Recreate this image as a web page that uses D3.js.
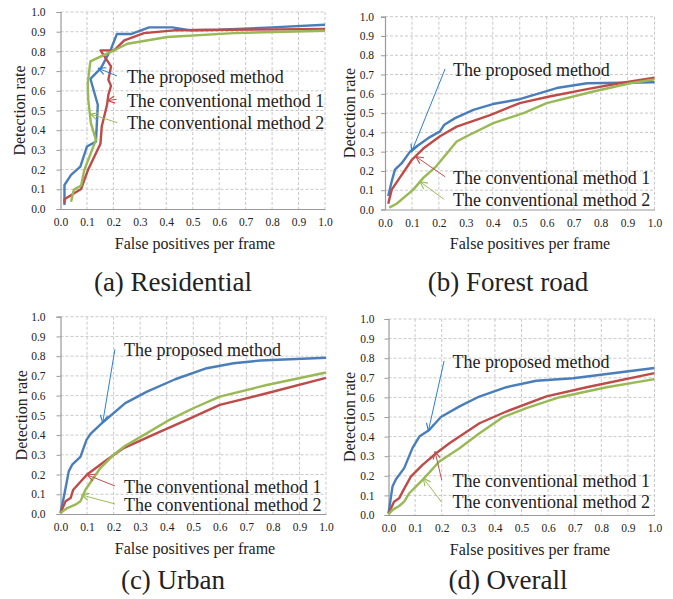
<!DOCTYPE html>
<html>
<head>
<meta charset="utf-8">
<title>Detection rate vs false positives</title>
<script src="https://d3js.org/d3.v7.min.js"></script>
<style>
  body { margin: 0; background: #fff; }
  text { font-family: "Liberation Serif", "Times New Roman", serif; fill: #222; }
</style>
</head>
<body>
<script>
// series values as [false positives per frame, detection rate]
var residentialProposed = [[0.015,0.02],[0.015,0.122],[0.04,0.173],[0.075,0.215],[0.10,0.317],[0.134,0.342],[0.141,0.529],[0.113,0.661],[0.153,0.715],[0.191,0.812],[0.213,0.888],[0.266,0.888],[0.335,0.922],[0.423,0.922],[0.492,0.907],[0.6,0.91],[0.8,0.922],[1.0,0.935]];
var residentialConv1 = [[0.015,0.029],[0.015,0.049],[0.078,0.102],[0.103,0.195],[0.151,0.331],[0.156,0.419],[0.176,0.529],[0.181,0.58],[0.191,0.625],[0.181,0.656],[0.191,0.724],[0.168,0.771],[0.151,0.805],[0.203,0.805],[0.241,0.856],[0.316,0.893],[0.429,0.907],[1.0,0.914]];
var residentialConv2 = [[0.04,0.037],[0.05,0.097],[0.078,0.119],[0.09,0.198],[0.134,0.351],[0.115,0.436],[0.105,0.554],[0.103,0.639],[0.113,0.749],[0.153,0.775],[0.213,0.812],[0.253,0.839],[0.404,0.873],[0.655,0.893],[1.0,0.905]];

var forestProposed = [[0.012,0.07],[0.025,0.147],[0.037,0.207],[0.062,0.24],[0.093,0.30],[0.118,0.328],[0.16,0.37],[0.204,0.405],[0.22,0.44],[0.26,0.474],[0.328,0.517],[0.40,0.547],[0.50,0.572],[0.637,0.63],[0.75,0.655],[1.0,0.66]];
var forestConv1 = [[0.012,0.03],[0.025,0.103],[0.05,0.155],[0.10,0.258],[0.142,0.316],[0.204,0.38],[0.266,0.43],[0.39,0.49],[0.50,0.552],[0.61,0.586],[0.75,0.624],[0.87,0.655],[1.0,0.684]];
var forestConv2 = [[0.016,0.01],[0.043,0.03],[0.105,0.103],[0.142,0.164],[0.19,0.224],[0.266,0.353],[0.303,0.38],[0.402,0.448],[0.514,0.50],[0.60,0.552],[0.773,0.612],[0.91,0.655],[1.0,0.675]];

var urbanProposed = [[0.0,0.005],[0.013,0.09],[0.019,0.13],[0.031,0.216],[0.044,0.25],[0.075,0.29],[0.098,0.376],[0.113,0.406],[0.163,0.469],[0.244,0.562],[0.326,0.62],[0.432,0.683],[0.551,0.739],[0.652,0.764],[0.752,0.778],[1.0,0.792]];
var urbanConv1 = [[0.0,0.005],[0.019,0.064],[0.038,0.081],[0.048,0.123],[0.10,0.20],[0.175,0.275],[0.238,0.334],[0.363,0.41],[0.476,0.477],[0.60,0.553],[0.777,0.612],[1.0,0.69]];
var urbanConv2 = [[0.0,0.005],[0.025,0.03],[0.056,0.047],[0.075,0.064],[0.094,0.123],[0.15,0.233],[0.20,0.30],[0.244,0.346],[0.326,0.41],[0.414,0.48],[0.50,0.536],[0.60,0.595],[0.777,0.654],[1.0,0.717]];

var overallProposed = [[0.0,0.008],[0.015,0.145],[0.028,0.182],[0.059,0.239],[0.09,0.341],[0.116,0.40],[0.153,0.434],[0.197,0.50],[0.267,0.554],[0.336,0.601],[0.443,0.652],[0.556,0.685],[0.694,0.698],[1.0,0.75]];
var overallConv1 = [[0.0,0.008],[0.021,0.068],[0.04,0.085],[0.053,0.119],[0.084,0.196],[0.128,0.256],[0.179,0.315],[0.229,0.366],[0.342,0.468],[0.443,0.528],[0.594,0.605],[0.745,0.652],[1.0,0.724]];
var overallConv2 = [[0.0,0.003],[0.015,0.026],[0.04,0.046],[0.059,0.068],[0.078,0.111],[0.128,0.179],[0.191,0.273],[0.267,0.341],[0.342,0.417],[0.43,0.499],[0.518,0.545],[0.644,0.601],[0.82,0.652],[1.0,0.693]];

var seriesNames = ["The proposed method", "The conventional method 1", "The conventional method 2"];
var captions = ["(a) Residential", "(b) Forest road", "(c) Urban", "(d) Overall"];
var tickValues = [0, 0.1, 0.2, 0.3, 0.4, 0.5, 0.6, 0.7, 0.8, 0.9, 1.0];

var lineColors = ["#4a7ebb", "#be4b48", "#98b954"];
var arrowColors = ["#2f7fd0", "#c0504d", "#9bbb59"];

// layout of each panel, label/arrow anchors are in data units
var panels = [
  { series: [residentialProposed, residentialConv1, residentialConv2],
    x0: 60.5, x1: 325, y0: 12, y1: 209, ygap: 15, ytitleX: 19, xtitleX: 195, xtitleY: 249, capX: 173, capY: 291,
    labels: [[0.251,0.64],[0.251,0.519],[0.251,0.405]],
    arrows: [[0.214,0.675,0.143,0.714],[0.212,0.557,0.178,0.55],[0.215,0.438,0.114,0.482]] },
  { series: [forestProposed, forestConv1, forestConv2],
    x0: 385, x1: 654.5, y0: 16.7, y1: 209.5, ygap: 11, ytitleX: 349, xtitleX: 530, xtitleY: 249, capX: 508, capY: 291,
    labels: [[0.252,0.692],[0.252,0.131],[0.252,0.02]],
    arrows: [[0.223,0.729,0.099,0.30],[0.223,0.17,0.115,0.274],[0.219,0.053,0.13,0.144]] },
  { series: [urbanProposed, urbanConv1, urbanConv2],
    x0: 60.5, x1: 326, y0: 316.7, y1: 514, ygap: 15, ytitleX: 21, xtitleX: 195, xtitleY: 554, capX: 173, capY: 589,
    labels: [[0.239,0.801],[0.239,0.108],[0.239,0.017]],
    arrows: [[0.205,0.835,0.159,0.463],[0.205,0.142,0.101,0.198],[0.205,0.051,0.08,0.096]] },
  { series: [overallProposed, overallConv1, overallConv2],
    x0: 388.5, x1: 654.5, y0: 319, y1: 515, ygap: 14, ytitleX: 349, xtitleX: 530, xtitleY: 555, capX: 508, capY: 589,
    labels: [[0.241,0.752],[0.241,0.141],[0.241,0.037]],
    arrows: [[0.209,0.786,0.15,0.43],[0.2,0.179,0.175,0.323],[0.2,0.065,0.131,0.187]] }
];

var svg = d3.select("body").append("svg")
  .attr("width", 673)
  .attr("height", 599);

svg.append("rect").attr("width", 673).attr("height", 599).attr("fill", "#fff");

// open arrow heads
var defs = svg.append("defs");
arrowColors.forEach(function(c, i) {
  defs.append("marker")
    .attr("id", "arrow" + i)
    .attr("viewBox", "0 0 10 10")
    .attr("refX", 9).attr("refY", 5)
    .attr("markerWidth", 9).attr("markerHeight", 9)
    .attr("markerUnits", "userSpaceOnUse")
    .attr("orient", "auto")
    .append("path")
    .attr("d", "M1,1 L9,5 L1,9")
    .attr("fill", "none")
    .attr("stroke", c)
    .attr("stroke-width", 1.3);
});

var fmt = d3.format(".1f");

panels.forEach(function(p, pi) {
  var x = d3.scaleLinear().domain([0, 1]).range([p.x0, p.x1]);
  var y = d3.scaleLinear().domain([0, 1]).range([p.y1, p.y0]);
  var g = svg.append("g");

  // dashed grid
  g.selectAll(".vgrid").data(tickValues.slice(1)).enter().append("line")
    .attr("x1", function(d) { return x(d); }).attr("x2", function(d) { return x(d); })
    .attr("y1", p.y0).attr("y2", p.y1)
    .attr("stroke", "#c8c8c8").attr("stroke-dasharray", "3,2");
  g.selectAll(".hgrid").data(tickValues.slice(1)).enter().append("line")
    .attr("x1", p.x0).attr("x2", p.x1)
    .attr("y1", function(d) { return y(d); }).attr("y2", function(d) { return y(d); })
    .attr("stroke", "#c8c8c8").attr("stroke-dasharray", "3,2");

  // axes
  var xa = g.append("g").attr("transform", "translate(0," + p.y1 + ")")
    .call(d3.axisBottom(x).tickValues(tickValues).tickFormat(fmt).tickSize(0).tickPadding(9));
  var ya = g.append("g").attr("transform", "translate(" + p.x0 + ",0)")
    .call(d3.axisLeft(y).tickValues(tickValues).tickFormat(fmt).tickSize(4).tickPadding(p.ygap - 4));
  [xa, ya].forEach(function(a) {
    a.select(".domain").attr("stroke", "#9a9a9a").attr("stroke-width", 1.2);
    a.selectAll(".tick line").attr("stroke", "#9a9a9a");
    a.selectAll("text").style("font-family", "Liberation Serif").style("font-size", "11.5px").attr("fill", "#333");
  });

  // series lines
  var line = d3.line().x(function(d) { return x(d[0]); }).y(function(d) { return y(d[1]); });
  p.series.forEach(function(s, si) {
    g.append("path").datum(s)
      .attr("d", line)
      .attr("fill", "none")
      .attr("stroke", lineColors[si])
      .attr("stroke-width", 2.4)
      .attr("stroke-linejoin", "round");
  });

  // annotation arrows and labels
  p.arrows.forEach(function(a, ai) {
    g.append("line")
      .attr("x1", x(a[0])).attr("y1", y(a[1]))
      .attr("x2", x(a[2])).attr("y2", y(a[3]))
      .attr("stroke", arrowColors[ai]).attr("stroke-width", 1)
      .attr("marker-end", "url(#arrow" + ai + ")");
  });
  p.labels.forEach(function(l, li) {
    g.append("text")
      .attr("x", x(l[0])).attr("y", y(l[1]))
      .style("font-size", "18px")
      .text(seriesNames[li]);
  });

  // titles
  g.append("text")
    .attr("transform", "translate(" + p.ytitleX + "," + ((p.y0 + p.y1) / 2) + ")rotate(-90)")
    .attr("text-anchor", "middle").attr("dominant-baseline", "central")
    .style("font-size", "16px")
    .text("Detection rate");
  g.append("text")
    .attr("x", p.xtitleX).attr("y", p.xtitleY)
    .attr("text-anchor", "middle")
    .style("font-size", "16px")
    .text("False positives per frame");
  g.append("text")
    .attr("x", p.capX).attr("y", p.capY)
    .attr("text-anchor", "middle")
    .style("font-size", "27px")
    .text(captions[pi]);
});
</script>
</body>
</html>
